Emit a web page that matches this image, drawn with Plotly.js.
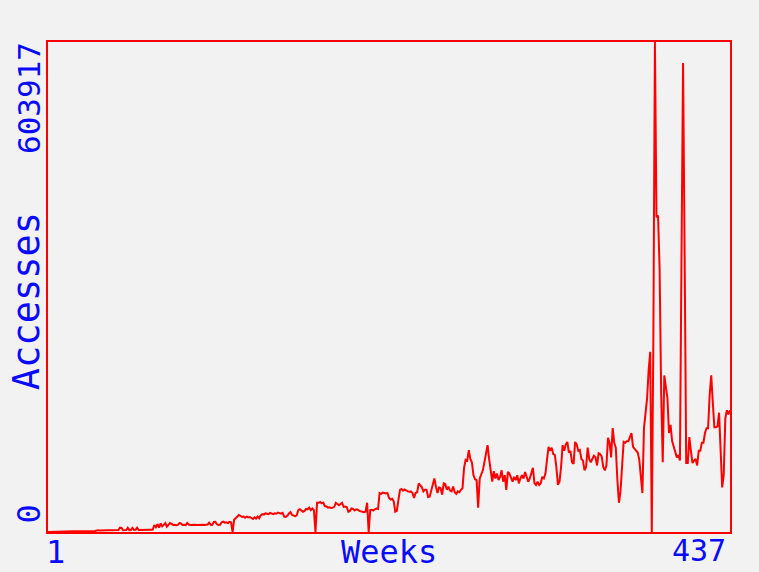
<!DOCTYPE html>
<html>
<head>
<meta charset="utf-8">
<script src="https://cdn.plot.ly/plotly-3.0.1.min.js"></script>
<style>
  html, body { margin: 0; padding: 0; background: #f2f2f2; }
  #chart { width: 759px; height: 572px; }
</style>
</head>
<body>
<div id="chart"></div>
<script>
// Weekly accesses, weeks 1..437
const accessesW001to100 = [
  0,0,0,0,0,0,0,0,0,0,0,0,0,0,200,500,
  900,1000,850,950,1100,900,1000,950,1050,900,1000,1100,950,1000,1200,
  1800,
  2000,1900,2100,2000,2200,1950,2050,2100,2000,2150,2050,2200,2100,2300,
  5300,5000,
  2300,2200,2400,5200,2300,2500,5000,2400,2600,5300,2500,2400,2600,2700,2500,2800,2600,2900,2700,3000,
  8600,6000,9500,5500,10500,7000,8800,11000,6500,9000,
  11000,10000,8600,9000,8400,8800,11000,10500,8600,9000,8500,11000,9200,8700,9000,8600,8800,8500,8700,9000,8600,8800
];
const accessesW101to200 = [
  8500,8700,9200,11500,9000,8800,12300,12500,9500,8600,8800,12000,12800,11500,12000,11000,12500,12000,
  0,
  15000,17000,19500,21000,20000,18500,19000,17500,19000,18000,18500,
  17500,16000,18000,16500,19000,17000,20500,
  22000,21500,23000,22500,22000,23500,22500,22000,23000,22500,24000,23000,22500,23500,19000,18500,20000,23000,24500,
  21000,20000,19500,20500,27000,28000,26000,25000,26000,28500,28000,30000,27000,29000,
  27000,0,36000,
  36000,37000,35500,36000,32000,31500,30000,30500,29500,30000,31000,36000,35000,33000,34500,36000,31000,31500,30500,25000,26000,29000,28500,26500,28000,27500,26000
];
const accessesW201to300 = [
  25500,25000,24500,25000,36000,
  0,
  27000,27500,26500,28000,29000,28500,
  48000,47000,48500,48000,47500,48000,
  42000,40000,41000,38000,25000,26000,
  43000,52000,53000,51000,52500,51000,50000,49500,50000,48000,42000,48000,49000,
  60000,58000,55000,50000,52000,52000,43000,43500,52000,60000,66000,56000,48000,55000,54000,46000,60000,59000,52000,56000,51000,50000,56000,49000,47000,50000,49000,52000,54000,
  79000,89000,88000,101000,90000,86000,70000,65000,64000,30000,66000,72000,76000,86000,95000,107000,90000,75000,62000,75000,66000,72000,64000,68000,76000,62000,70000,52000,74000,72000,68000,62000,68000,64000
];
const accessesW301to400 = [
  70000,60000,66000,70000,66000,74000,68000,62000,66000,72000,79000,60000,58000,62000,58000,60000,68000,66000,72000,
  89000,105000,100000,104000,96000,95000,80000,58000,62000,80000,107000,100000,108000,111000,98000,100000,86000,84000,111000,108000,100000,
  101000,90000,88000,76000,80000,104000,90000,86000,90000,94000,92000,82000,97000,96000,93000,80000,76000,82000,116000,110000,
  92000,128000,110000,104000,64000,36000,50000,80000,111000,110000,112000,112000,117000,122000,105000,103000,100000,98000,89000,70000,
  48000,128000,150000,165000,200000,222000,0,237000,603917,388000,390000,324000,171000,86000,193000,175000,165000,122000,132000,112000
];
const accessesW401to437 = [
  105000,96000,92000,95000,88000,341000,578000,341000,85000,85000,
  117000,100000,85000,88000,90000,82000,100000,100000,110000,110000,
  122000,128000,128000,169000,193000,160000,129000,129000,130000,147000,
  103000,55000,70000,140000,150000,145000,150000
];

const firstWeek = 1;
const lastWeek = 437;
const maxAccesses = 603917;
const xTickLabels = ["1", "437"];
const yTickLabels = ["0", "603917"];
const xTitle = "Weeks";
const yTitle = "Accesses";

const accesses = [].concat(accessesW001to100, accessesW101to200, accessesW201to300, accessesW301to400, accessesW401to437);
const weeks = accesses.map((_, i) => firstWeek + i);

const RED = "#ff0000";
const BLUE = "#0a0aff";
const FONT = "DejaVu Sans Mono, Liberation Mono, monospace";
const fnt = (s) => ({family: FONT, size: s, color: BLUE});

const trace = {
  x: weeks,
  y: accesses,
  type: "scatter",
  mode: "lines",
  line: {color: RED, width: 2},
  hoverinfo: "skip"
};

const layout = {
  width: 759,
  height: 572,
  margin: {l: 48, r: 29, t: 42, b: 40, pad: 0},
  paper_bgcolor: "#f2f2f2",
  plot_bgcolor: "#f2f2f2",
  showlegend: false,
  xaxis: {
    range: [firstWeek, lastWeek],
    showgrid: false, zeroline: false, showticklabels: false, ticks: "",
    showline: true, mirror: true, linecolor: RED, linewidth: 2
  },
  yaxis: {
    range: [0, maxAccesses],
    showgrid: false, zeroline: false, showticklabels: false, ticks: "",
    showline: true, mirror: true, linecolor: RED, linewidth: 2
  },
  annotations: [
    {text: xTickLabels[0], x: firstWeek, xref: "x", y: 0, yref: "paper", xanchor: "left", yanchor: "top", showarrow: false, font: fnt(32), xshift: -4, yshift: 1},
    {text: xTitle, x: 0.5, xref: "paper", y: 0, yref: "paper", xanchor: "center", yanchor: "top", showarrow: false, font: fnt(32), yshift: 1},
    {text: xTickLabels[1], x: lastWeek, xref: "x", y: 0, yref: "paper", xanchor: "right", yanchor: "top", showarrow: false, font: fnt(30), xshift: -2, yshift: 1},
    {text: yTickLabels[0], x: 0, xref: "paper", y: 0, yref: "y", xanchor: "right", yanchor: "bottom", textangle: -90, showarrow: false, font: fnt(32), xshift: 1, yshift: 6},
    {text: yTickLabels[1], x: 0, xref: "paper", y: maxAccesses, yref: "y", xanchor: "right", yanchor: "top", textangle: -90, showarrow: false, font: fnt(31), xshift: 1, yshift: 2},
    {text: yTitle, x: 0, xref: "paper", y: 0.47, yref: "paper", xanchor: "right", yanchor: "middle", textangle: -90, showarrow: false, font: fnt(37), xshift: 2}
  ]
};

Plotly.newPlot("chart", [trace], layout, {staticPlot: true, displayModeBar: false});
</script>
</body>
</html>
